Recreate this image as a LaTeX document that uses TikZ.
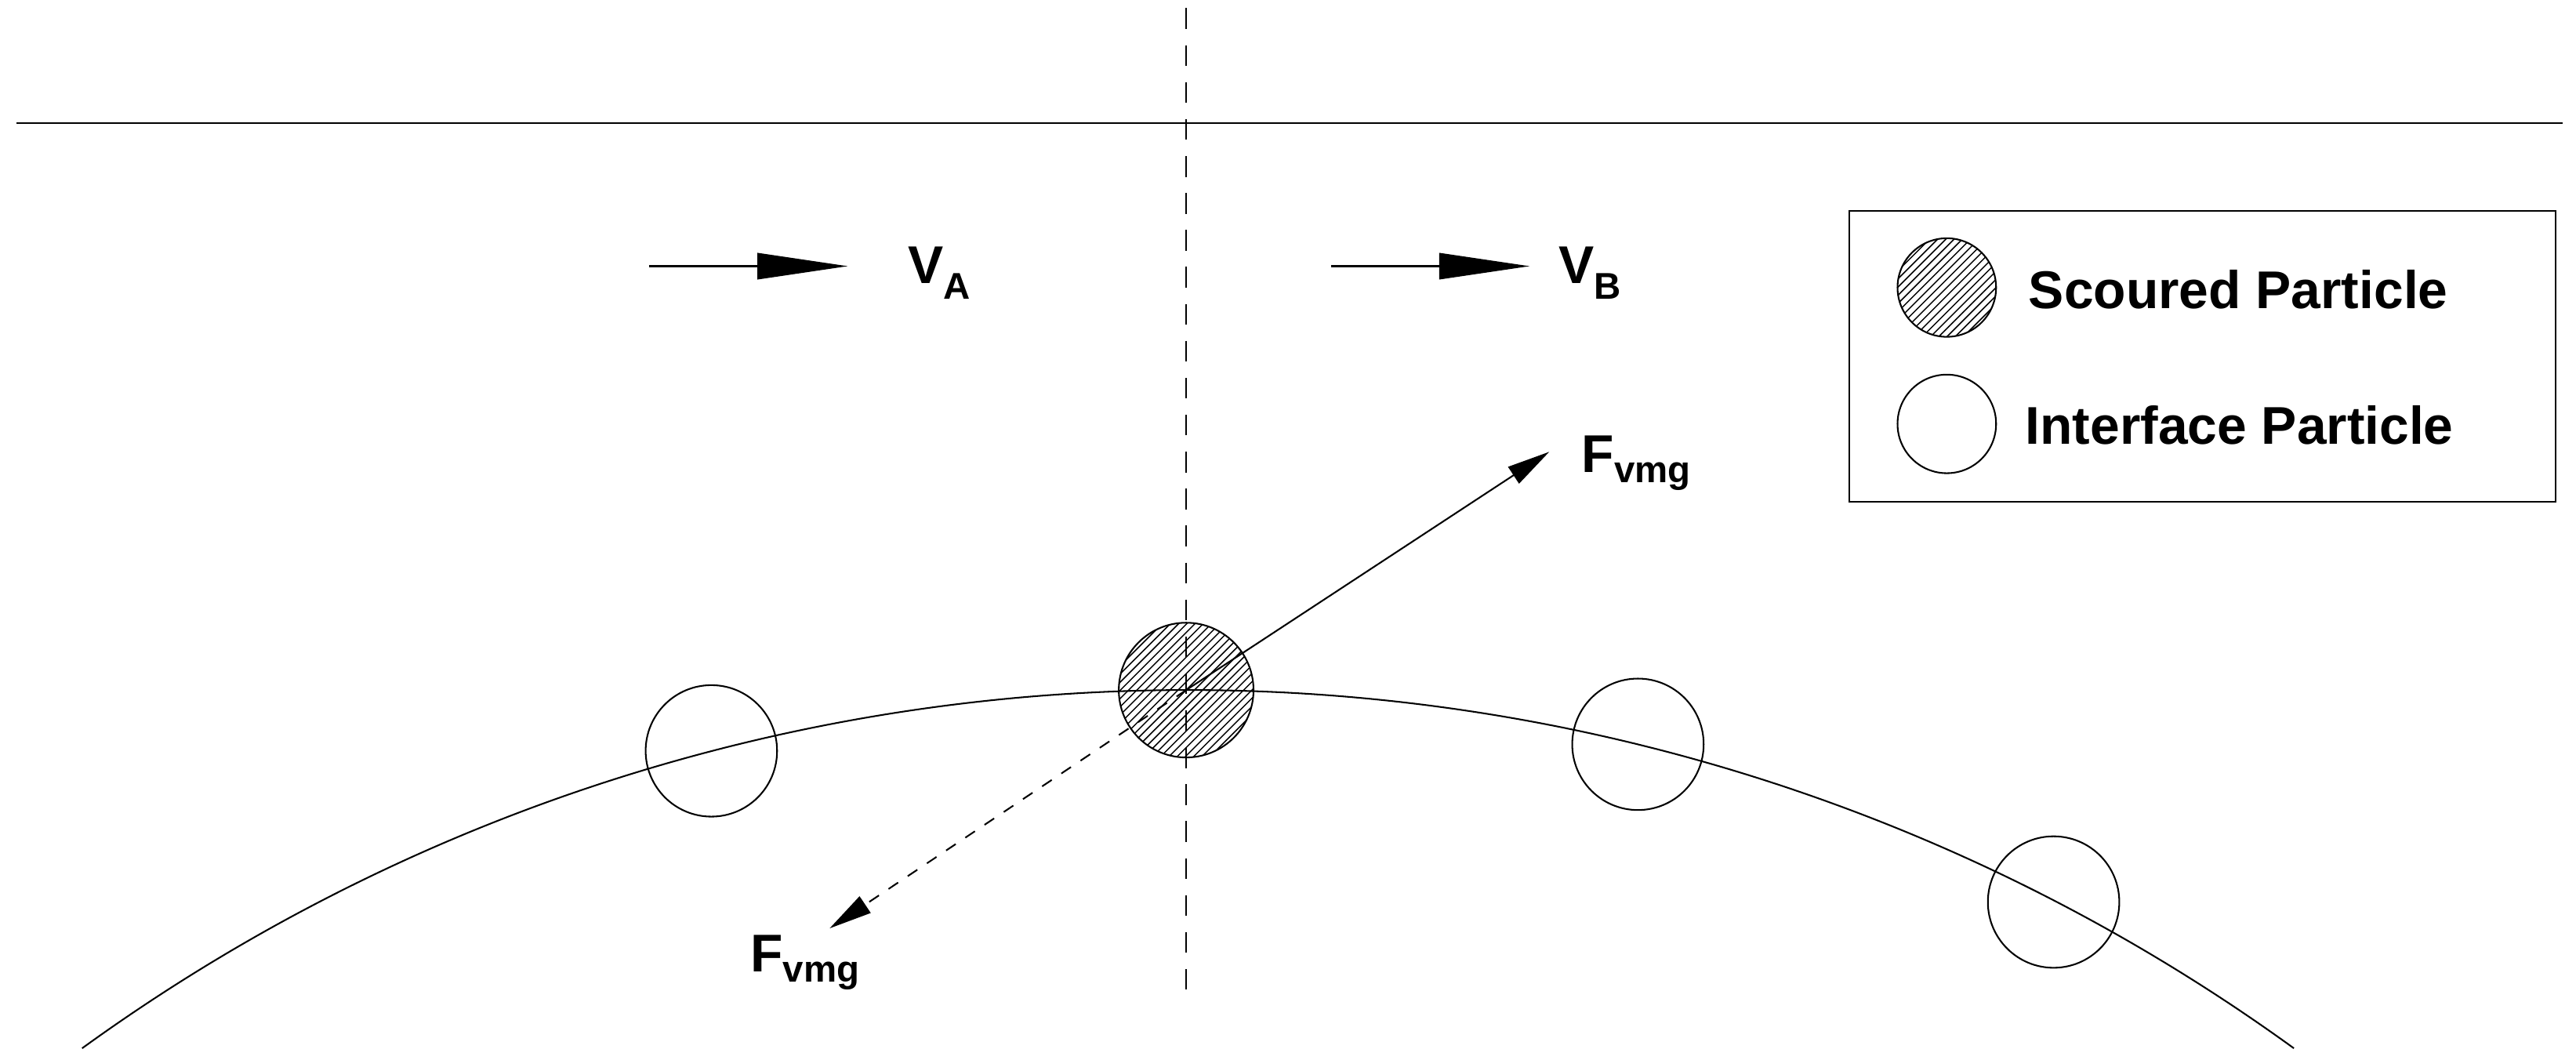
\documentclass[tikz,border=0pt]{standalone}
\usepackage{fontspec}
\setmainfont{Liberation Sans}
\usetikzlibrary{arrows.meta}
\begin{document}
\begin{tikzpicture}[x=0.05cm,y=-0.05cm,line width=1.4pt,
  lbl/.style={font=\fontsize{46}{54}\selectfont\bfseries},
  part/.style={circle,draw,minimum size=80*0.05cm,inner sep=0pt},
  vtip/.style={-{Triangle[length=2.75cm,width=0.8cm]}},
  ftip/.style={-{Triangle[length=1.3cm,width=0.6cm]}}]
\useasboundingbox (0,0) rectangle (1568,645);
\newcommand{\hatchat}[3]{\begin{scope}\clip (#1,#2) circle (#3);
  \foreach \k in {-90,-85,...,90}{\draw[line width=1pt] (#1+\k-50,#2+50) -- (#1+\k+50,#2-50);}
  \end{scope}}
% lines
\coordinate (hl) at (10,75); \coordinate (hr) at (1560,75);
\draw (hl) -- (hr);
\coordinate (vt) at (722,5); \coordinate (vb) at (722,602);
\draw[dash pattern=on 18pt off 14pt] (vt) -- (vb);
% arc
\coordinate (as) at (50,638);
\draw (as) arc[start angle=234.1,end angle=305.9,radius=1148];
% velocity arrows
\coordinate (a1) at (395,162); \coordinate (a2) at (516,162);
\draw[vtip] (a1) -- (a2);
\node[lbl,anchor=west] (va) at (550,166) {V\textsubscript{A}};
\coordinate (b1) at (810,162); \coordinate (b2) at (931,162);
\draw[vtip] (b1) -- (b2);
\node[lbl,anchor=west] (vb2) at (946,166) {V\textsubscript{B}};
% scoured particle
\hatchat{722}{420}{41}
\node[part,minimum size=82*0.05cm] (sp) at (722,420) {};
% interface particles
\node[part] (p1) at (433,457) {};
\node[part] (p2) at (997,453) {};
\node[part] (p3) at (1250,549) {};
% forces
\coordinate (fe) at (943,275);
\draw[ftip] (sp.center) -- (fe);
\node[lbl,anchor=west] (f1) at (960,282) {F\textsubscript{vmg}};
\coordinate (fd) at (505,565);
\draw[ftip,dashed,dash pattern=on 10pt off 10pt] (sp.center) -- (fd);
\node[lbl,anchor=west] (f2) at (454,586) {F\textsubscript{vmg}};
% legend
\node[draw,minimum width=430*0.05cm,minimum height=177*0.05cm,anchor=north west,inner sep=0pt] (leg) at (1125,128) {};
\hatchat{1185}{175}{30}
\node[part,minimum size=60*0.05cm] (ls) at (1185,175) {};
\node[lbl,anchor=west] (lst) at (1232,176) {Scoured Particle};
\node[part,minimum size=60*0.05cm] (li) at (1185,258) {};
\node[lbl,anchor=west] (lit) at (1230,259) {Interface Particle};
\end{tikzpicture}
\end{document}
